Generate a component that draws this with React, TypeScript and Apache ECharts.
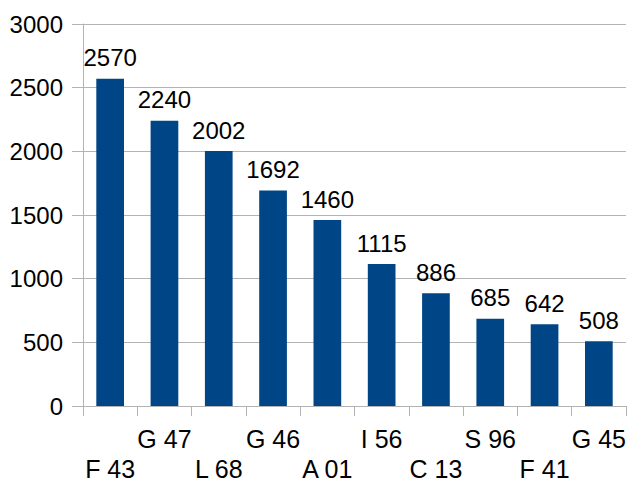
import React, { useEffect, useRef } from "react";
import * as echarts from "echarts";

const categories = ["F 43", "G 47", "L 68", "G 46", "A 01", "I 56", "C 13", "S 96", "F 41", "G 45"];
const values = [2570, 2240, 2002, 1692, 1460, 1115, 886, 685, 642, 508];
const yTicks = { min: 0, max: 3000, interval: 500 };

export default function App() {
  const ref = useRef<HTMLDivElement>(null);
  useEffect(() => {
    if (!ref.current) return;
    const chart = echarts.init(ref.current, null, { renderer: "svg" });
    const font = "'Liberation Sans', Arial, sans-serif";
    chart.setOption({
      animation: false,
      grid: { left: 83, right: 4, top: 24, bottom: 70, containLabel: false },
      xAxis: {
        type: "category",
        data: categories,
        axisLine: { show: true, lineStyle: { color: "#b3b3b3", width: 1 } },
        axisTick: { show: true, length: 10, interval: 0, lineStyle: { color: "#b3b3b3" } },
        axisLabel: {
          interval: 0,
          hideOverlap: false,
          color: "#000",
          fontFamily: font,
          fontSize: 25,
          lineHeight: 30,
          margin: 18,
          formatter: (v: string, i: number) => (i % 2 === 0 ? "\n" + v : v),
        },
      },
      yAxis: {
        type: "value",
        min: yTicks.min,
        max: yTicks.max,
        interval: yTicks.interval,
        axisLine: { show: true, lineStyle: { color: "#b3b3b3", width: 1 } },
        axisTick: { show: true, length: 11, lineStyle: { color: "#b3b3b3" } },
        splitLine: { show: true, lineStyle: { color: "#b3b3b3", width: 1 } },
        axisLabel: {
          color: "#000",
          fontFamily: font,
          fontSize: 24,
          margin: 20,
          formatter: (v: number) => String(v),
        },
      },
      series: [
        {
          type: "bar",
          data: values,
          barWidth: "51%",
          itemStyle: { color: "#004586" },
          label: {
            show: true,
            position: "top",
            distance: 9,
            color: "#000",
            fontFamily: font,
            fontSize: 24,
          },
        },
      ],
    });
    return () => chart.dispose();
  }, []);
  return (
    <div
      ref={ref}
      style={{ position: "fixed", left: 0, top: 0, width: 630, height: 484, background: "#fff" }}
    />
  );
}
